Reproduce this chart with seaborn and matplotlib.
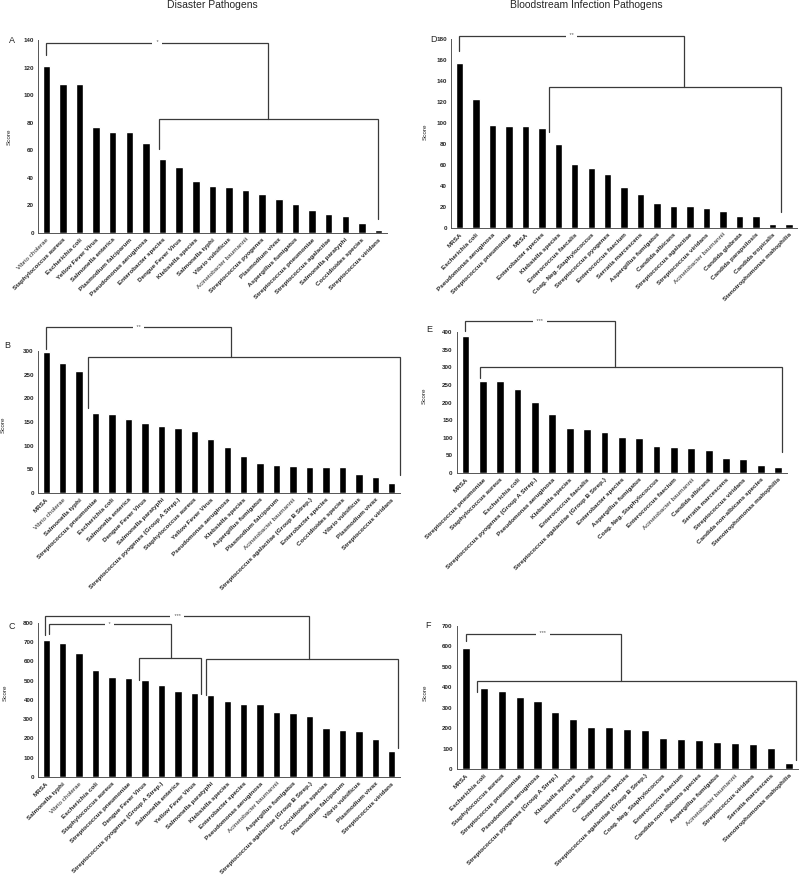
import pandas as pd
import matplotlib
matplotlib.use("Agg")
import matplotlib.pyplot as plt
import seaborn as sns

sns.set_style("white")
plt.rcParams['font.family'] = ['Liberation Sans', 'DejaVu Sans']

# -------- DATA --------
a_labels = ["Vibrio cholerae", "Staphylococcus aureus", "Escherichia coli", "Yellow Fever Virus",
            "Salmonella enterica", "Plasmodium falciparum", "Pseudomonas aeruginosa", "Enterobacter species",
            "Dengue Fever Virus", "Klebsiella species", "Salmonella typhi", "Vibrio vulnificus",
            "Acinetobacter baumannii", "Streptococcus pyogenes", "Plasmodium vivax", "Aspergillus fumigatus",
            "Streptococcus pneumoniae", "Streptococcus agalactiae", "Salmonella paratyphi",
            "Coccidioides species", "Streptococcus viridans"]
a_scores = [121, 108, 108, 77, 73, 73, 65, 54, 48, 38, 34, 33, 31, 28, 25, 21, 17, 14, 12, 7, 2]

b_labels = ["MRSA", "Vibrio cholerae", "Salmonella typhi", "Streptococcus pneumoniae", "Escherichia coli",
            "Salmonella enterica", "Dengue Fever Virus", "Salmonella paratyphi",
            "Streptococcus pyogenes (Group A Strep.)", "Staphylococcus aureus", "Yellow Fever Virus",
            "Pseudomonas aeruginosa", "Klebsiella species", "Aspergillus fumigatus", "Plasmodium falciparum",
            "Acinetobacter baumannii", "Streptococcus agalactiae (Group B Strep.)", "Enterobacter species",
            "Coccidioides species", "Vibrio vulnificus", "Plasmodium vivax", "Streptococcus viridans"]
b_scores = [298, 274, 257, 170, 167, 156, 148, 141, 138, 131, 115, 97, 78, 64, 59, 57, 56, 56, 55, 40, 34, 21]

c_labels = ["MRSA", "Salmonella typhi", "Vibrio cholerae", "Escherichia coli", "Staphylococcus aureus",
            "Streptococcus pneumoniae", "Dengue Fever Virus", "Streptococcus pyogenes (Group A Strep.)",
            "Salmonella enterica", "Yellow Fever Virus", "Salmonella paratyphi", "Klebsiella species",
            "Enterobacter species", "Pseudomonas aeruginosa", "Acinetobacter baumannii", "Aspergillus fumigatus",
            "Streptococcus agalactiae (Group B Strep.)", "Coccidioides species", "Plasmodium falciparum",
            "Vibrio vulnificus", "Plasmodium vivax", "Streptococcus viridans"]
c_scores = [711, 698, 645, 553, 521, 516, 503, 480, 446, 436, 424, 395, 381, 377, 336, 332, 316,
            253, 246, 237, 199, 133]

d_labels = ["MRSA", "Escherichia coli", "Pseudomonas aeruginosa", "Streptococcus pneumoniae", "MSSA",
            "Enterobacter species", "Klebsiella species", "Enterococcus faecalis", "Coag. Neg. Staphylococcus",
            "Streptococcus pyogenes", "Enterococcus faecium", "Serratia marcescens", "Aspergillus fumigatus",
            "Candida albicans", "Streptococcus agalactiae", "Streptococcus viridans", "Acinetobacter baumannii",
            "Candida glabrata", "Candida parapsilosis", "Candida tropicalis", "Stenotrophomonas maltophilia"]
d_scores = [157, 123, 98, 97, 97, 95, 80, 61, 57, 51, 39, 32, 24, 21, 21, 19, 16, 11, 11, 4, 4]

e_labels = ["MRSA", "Streptococcus pneumoniae", "Staphylococcus aureus", "Escherichia coli",
            "Streptococcus pyogenes (Group A Strep.)", "Pseudomonas aeruginosa", "Klebsiella species",
            "Enterococcus faecalis", "Streptococcus agalactiae (Group B Strep.)", "Enterobacter species",
            "Aspergillus fumigatus", "Coag. Neg. Staphylococcus", "Enterococcus faecium",
            "Acinetobacter baumannii", "Candida albicans", "Serratia marcescens", "Streptococcus viridans",
            "Candida non-albicans species", "Stenotrophomonas maltophilia"]
e_scores = [390, 261, 260, 237, 201, 168, 128, 124, 116, 102, 99, 77, 74, 70, 64, 43, 39, 24, 17]

f_labels = ["MRSA", "Escherichia coli", "Staphylococcus aureus", "Streptococcus pneumoniae",
            "Pseudomonas aeruginosa", "Streptococcus pyogenes (Group A Strep.)", "Klebsiella species",
            "Enterococcus faecalis", "Candida albicans", "Enterobacter species",
            "Streptococcus agalactiae (Group B Strep.)", "Coag. Neg. Staphylococcus", "Enterococcus faecium",
            "Candida non-albicans species", "Aspergillus fumigatus", "Acinetobacter baumannii",
            "Streptococcus viridans", "Serratia marcescens", "Stenotrophomonas maltophilia"]
f_scores = [590, 395, 380, 350, 333, 278, 243, 207, 205, 197, 193, 153, 147, 143, 133, 128, 124, 103, 30]

# labels printed in plain (non-bold) type in the original
light_labels = ["Vibrio cholerae", "Acinetobacter baumannii"]

# brackets: (x_left, x_right, y_bar, y_left_end, y_right_end, mark)
a_brackets = [(0, 13.35, 138, 129, 83, "*"), (6.8, 20, 83, 61, 10, "")]
b_brackets = [(0, 11.2, 350, 305, 287, "**"), (2.55, 21.49, 287, 180, 38, "")]
c_brackets = [(-0.06, 15.98, 836, 737, 611, "***"), (0.15, 7.56, 793, 741, 618, "*"),
              (5.65, 9.43, 618, 502, 433, ""), (9.7, 21.37, 611, 424, 150, "")]
d_brackets = [(0, 13.6, 183, 169, 134, "**"), (5.46, 19.5, 134, 91, 15, "")]
e_brackets = [(0, 8.6, 430, 402, 300, "***"), (0.82, 18.25, 300, 269, 61, "")]
f_brackets = [(0, 8.63, 661, 627, 430, "***"), (0.65, 18.4, 430, 375, 43, "")]

fig = plt.figure(figsize=(8, 8.94), dpi=100)


def draw_panel(rect, labels, scores, ymax, ystep, brackets, ylab_pos):
    ax = fig.add_axes(rect)
    df = pd.DataFrame({"pathogen": labels, "score": scores})
    sns.barplot(data=df, x="pathogen", y="score", color="black", saturation=1,
                width=0.45, ax=ax, errorbar=None)
    n = len(labels)
    ax.set_xlim(-0.5, n - 0.5)
    ax.set_ylim(0, ymax)
    ax.set_yticks(range(0, ymax + 1, ystep))
    ax.set_yticklabels([str(v) for v in range(0, ymax + 1, ystep)], fontsize=4.5, fontweight="bold")
    ax.set_xticks(range(n))
    ax.set_xticklabels(labels, rotation=45, ha="right", rotation_mode="anchor", fontsize=4.6)
    for t in ax.get_xticklabels():
        t.set_fontweight("normal" if t.get_text() in light_labels else "bold")
    ax.set_xticks([i - 0.5 for i in range(n + 1)], minor=True)
    ax.tick_params(axis="x", which="major", length=0, pad=3)
    ax.tick_params(axis="x", which="minor", length=2.5, width=0.6, color="#555555", direction="out")
    ax.tick_params(axis="y", length=2, width=0.6, color="#555555", direction="out", pad=1)
    ax.set_xlabel("")
    ax.set_ylabel("Score", fontsize=4.6)
    ax.yaxis.set_label_coords(ylab_pos[0], ylab_pos[1])
    for s in ["top", "right"]:
        ax.spines[s].set_visible(False)
    for s in ["left", "bottom"]:
        ax.spines[s].set_color("#555555")
        ax.spines[s].set_linewidth(0.7)
    for xl, xr, y, yl, yr, mark in brackets:
        ax.plot([xl, xl, xr, xr], [yl, y, y, yr], color="#3a3a3a", lw=0.9, clip_on=False,
                solid_joinstyle="miter")
        if mark:
            ax.text((xl + xr) / 2, y, " " + mark + " ", ha="center", va="center", fontsize=4,
                    color="#555555", bbox=dict(fc="white", ec="none", pad=1.5), clip_on=False)
    return ax


draw_panel([0.0475, 0.7394, 0.436, 0.2159], a_labels, a_scores, 140, 20, a_brackets, (-0.075, 0.50))
draw_panel([0.0475, 0.4485, 0.4525, 0.1588], b_labels, b_scores, 300, 50, b_brackets, (-0.088, 0.48))
draw_panel([0.0475, 0.1309, 0.4525, 0.1723], c_labels, c_scores, 800, 100, c_brackets, (-0.085, 0.545))
draw_panel([0.564, 0.745, 0.4325, 0.2114], d_labels, d_scores, 180, 20, d_brackets, (-0.069, 0.51))
draw_panel([0.571, 0.4709, 0.4125, 0.1577], e_labels, e_scores, 400, 50, e_brackets, (-0.091, 0.55))
draw_panel([0.571, 0.1398, 0.426, 0.16], f_labels, f_scores, 700, 100, f_brackets, (-0.085, 0.53))

fig.text(0.265, 0.9944, "Disaster Pathogens", ha="center", va="center", fontsize=7.5)
fig.text(0.7325, 0.9944, "Bloodstream Infection Pathogens", ha="center", va="center", fontsize=7.5)

for x, y, letter in [(0.011, 0.955, "A"), (0.005, 0.614, "B"), (0.011, 0.299, "C"),
                     (0.538, 0.956, "D"), (0.533, 0.631, "E"), (0.532, 0.300, "F")]:
    fig.text(x, y, letter, ha="left", va="center", fontsize=6.5)

fig.savefig("out.png", dpi=100)
